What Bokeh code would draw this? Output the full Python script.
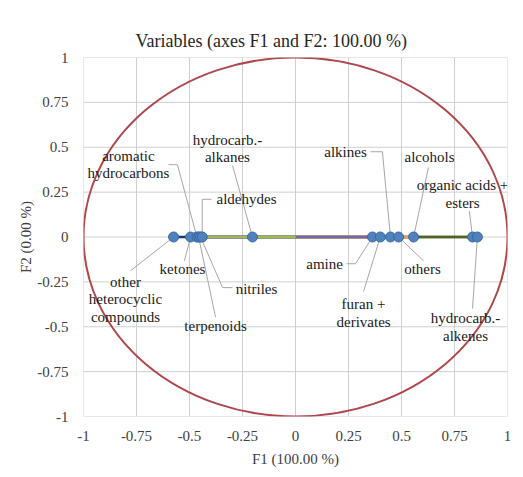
from bokeh.plotting import figure
from bokeh.models import Range1d, FixedTicker
from bokeh.embed import file_html
from bokeh.resources import INLINE
from bokeh.core.properties import value

# ---- data ----
variables = [
    "other\nheterocyclic\ncompounds", "ketones", "aromatic\nhydrocarbons", "terpenoids",
    "nitriles", "aldehydes", "hydrocarb.-\nalkanes", "amine", "furan +\nderivates",
    "alkines", "others", "alcohols", "organic acids +\nesters", "hydrocarb.-\nalkenes",
]
f1 = [-0.575, -0.495, -0.465, -0.457, -0.448, -0.44, -0.203,
      0.363, 0.40, 0.448, 0.486, 0.557, 0.835, 0.858]
f2 = [0.0, 0.0, 0.0, 0.0, 0.0, 0.0, 0.0,
      0.0, 0.0, 0.0, 0.0, 0.0, 0.0, 0.0]
tick_values = [-1.0, -0.75, -0.5, -0.25, 0.0, 0.25, 0.5, 0.75, 1.0]
tick_labels = ["-1", "-0.75", "-0.5", "-0.25", "0", "0.25", "0.5", "0.75", "1"]
title_text = "Variables (axes F1 and F2: 100.00  %)"
x_title = "F1 (100.00 %)"
y_title = "F2 (0.00 %)"

# ---- layout / style (not data) ----
vec_colors = ["#1f3864", "#2c4d75", "#4f81bd", "#c0504d", "#8064a2", "#9bbb59", "#9bbb59",
              "#8064a2", "#4bacc6", "#f79646", "#7f7f7f", "#f79646", "#4f6228", "#4f6228"]
label_pos = [(-0.802, -0.348), (-0.533, -0.177), (-0.788, 0.403), (-0.377, -0.497),
             (-0.184, -0.287), (-0.231, 0.21), (-0.321, 0.494), (0.137, -0.149),
             (0.321, -0.425), (0.236, 0.475), (0.599, -0.177), (0.632, 0.448),
             (0.788, 0.238), (0.802, -0.50)]
leader_pts = [
    [(-0.778, -0.188)],
    [(-0.524, -0.133)],
    [(-0.599, 0.403), (-0.557, 0.403)],
    [(-0.377, -0.447)],
    [(-0.297, -0.282), (-0.344, -0.282)],
    [(-0.396, 0.21), (-0.44, 0.21)],
    [(-0.297, 0.398)],
    [(0.241, -0.149), (0.283, -0.149)],
    [(0.321, -0.304)],
    [(0.354, 0.475), (0.41, 0.475)],
    [(0.604, -0.133)],
    [(0.627, 0.387)],
    [(0.820, 0.144)],
    [(0.835, -0.398)],
]

SERIF = "Liberation Serif"
GRID = "#cfcfcf"

p = figure(width=515, height=469, output_backend="svg", toolbar_location=None,
           x_range=Range1d(-1, 1), y_range=Range1d(-1, 1),
           min_border_left=83, min_border_right=8, min_border_top=57, min_border_bottom=50)
p.background_fill_color = "white"
p.border_fill_color = "white"

p.title.text = title_text
p.title.text_font = SERIF
p.title.text_font_size = "18px"
p.title.text_font_style = "normal"
p.title.text_color = "#262626"
p.title.align = "left"
p.title.offset = 52
p.title.standoff = 13

ticker = FixedTicker(ticks=tick_values)
for ax in (p.xaxis, p.yaxis):
    ax.ticker = ticker
    ax.major_label_overrides = {v: s for v, s in zip(tick_values, tick_labels)}
    ax.axis_line_color = None
    ax.major_tick_line_color = None
    ax.minor_tick_line_color = None
    ax.major_label_text_font = SERIF
    ax.major_label_text_font_size = "15px"
    ax.major_label_text_color = "#404040"
    ax.axis_label_text_font = SERIF
    ax.axis_label_text_font_size = "15px"
    ax.axis_label_text_font_style = "normal"
    ax.axis_label_text_color = "#404040"

p.xaxis.axis_label = x_title
p.yaxis.axis_label = y_title
p.xaxis.major_label_standoff = 8
p.yaxis.major_label_standoff = 9
p.xaxis.axis_label_standoff = 7
p.yaxis.axis_label_standoff = 0

p.xgrid.grid_line_color = None
p.ygrid.grid_line_color = None
p.outline_line_color = None

# grid lines drawn as a multi_line glyph at the tick positions
lo, hi = tick_values[0], tick_values[-1]
gxs = [[t, t] for t in tick_values] + [[lo, hi] for t in tick_values]
gys = [[lo, hi] for t in tick_values] + [[t, t] for t in tick_values]
p.multi_line(gxs, gys, line_color=GRID, line_width=1)

# leader lines
xs, ys = [], []
for i, pts in enumerate(leader_pts):
    xs.append([q[0] for q in pts] + [f1[i]])
    ys.append([q[1] for q in pts] + [f2[i]])
p.multi_line(xs, ys, line_color="#a6a6a6", line_width=1)

# vectors from origin, longest first on each side
order = sorted(range(len(f1)), key=lambda i: -abs(f1[i]))
p.segment(x0=[0] * len(order), y0=[0] * len(order),
          x1=[f1[i] for i in order], y1=[f2[i] for i in order],
          line_color=[vec_colors[i] for i in order], line_width=2.5)

# correlation circle
p.ellipse(x=[0], y=[0], width=[2], height=[2], fill_color=None,
          line_color="#b0474c", line_width=2)

# points
p.scatter(f1, f2, size=10, fill_color="#4f81bd", line_color="#3a6aa3", line_width=1)

# labels
p.text(x=[q[0] for q in label_pos], y=[q[1] for q in label_pos], text=variables,
       text_align="center", text_baseline="middle", text_font=value(SERIF),
       text_font_size="15px", text_line_height=1.1, text_color="#1a1a1a")

open("out.html", "w").write(file_html(p, INLINE))
